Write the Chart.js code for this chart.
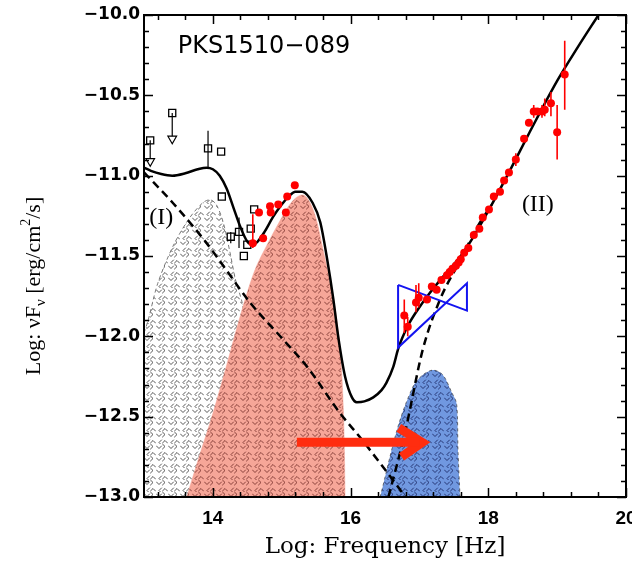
<!DOCTYPE html>
<html><head><meta charset="utf-8">
<script src="https://cdn.jsdelivr.net/npm/chart.js@4.4.1/dist/chart.umd.min.js"></script>
<style>html,body{margin:0;padding:0;background:#fff;}#wrap{width:632px;height:561px;}</style>
</head><body><div id="wrap"><canvas id="c" width="632" height="561"></canvas></div>
<script>
// ---- tick labels ----
const xTicks = [14, 16, 18, 20];
const yTicks = [-13.0, -12.5, -12.0, -11.5, -11.0, -10.5, -10.0];

// ---- total model (solid) ----
const modelX = [13.0,13.1,13.25,13.41,13.6,13.78,13.91,14.0,14.1,14.2,14.3,14.4,14.5,14.58,14.65,14.75,14.87,15.0,15.1,15.2,15.3,15.45,15.56,15.66,15.75,15.82,15.92,16.02,16.09,16.2,16.33,16.45,16.52,16.62,16.69,16.75,16.85,16.95,17.15,17.4,17.6,17.8,18.0,18.3,18.6,19.0,19.3,19.6];
const modelY = [-10.95,-10.97,-10.99,-11.0,-10.985,-10.96,-10.95,-10.96,-11.0,-11.08,-11.2,-11.32,-11.41,-11.43,-11.41,-11.35,-11.26,-11.18,-11.13,-11.10,-11.10,-11.17,-11.29,-11.52,-11.77,-12.0,-12.25,-12.38,-12.41,-12.405,-12.38,-12.335,-12.29,-12.19,-12.08,-12.01,-11.92,-11.85,-11.73,-11.6,-11.5,-11.37,-11.22,-10.98,-10.73,-10.41,-10.2,-10.0];

// ---- synchrotron (dashed, falling) ----
const synX = [13.0,13.42,13.91,14.2,14.54,15.0,15.37,15.85,16.14,16.43,16.8];
const synY = [-10.98,-11.17,-11.42,-11.59,-11.79,-12.01,-12.19,-12.48,-12.63,-12.79,-13.0];

// ---- inverse Compton (dashed, rising) ----
const icX = [16.55,16.79,17.05,17.3,17.59,17.84,18.05];
const icY = [-13.0,-12.6,-12.08,-11.77,-11.53,-11.32,-11.18];

// ---- shaded components ----
const diskX = [13.0,13.06,13.2,13.42,13.65,13.85,13.96,14.05,14.15,14.25,14.33,14.42,14.44,14.40,14.45,14.55,14.58,14.58];
const diskY = [-11.98,-11.9,-11.67,-11.44,-11.27,-11.17,-11.15,-11.18,-11.29,-11.48,-11.65,-11.78,-11.85,-11.92,-12.2,-12.45,-12.6,-13.0];
const uvX = [13.62,13.8,14.0,14.2,14.4,14.6,14.8,14.95,15.1,15.2,15.3,15.4,15.5,15.6,15.7,15.8,15.86,15.89,15.91,15.92];
const uvY = [-13.0,-12.75,-12.48,-12.18,-11.87,-11.6,-11.42,-11.3,-11.19,-11.14,-11.12,-11.16,-11.27,-11.46,-11.66,-11.9,-12.15,-12.4,-12.7,-13.0];
const blueX = [16.43,16.69,16.91,17.05,17.2,17.34,17.47,17.54,17.56,17.59];
const blueY = [-13.0,-12.56,-12.31,-12.24,-12.21,-12.24,-12.35,-12.42,-12.71,-13.0];

// ---- bow-tie and arrow ----
const bowX = [16.69,17.69,17.69,16.69,16.69];
const bowY = [-11.68,-11.84,-11.67,-12.07,-11.68];
const shaftX = [15.22,17.0];
const shaftY = [-12.66,-12.66];
const headX = [16.70,17.04,16.74];
const headY = [-12.57,-12.66,-12.75];

// ---- red data ----
const redX = [14.58,14.67,14.73,14.83,14.84,14.95,15.06,15.08,15.19,16.78,16.83,16.95,16.99,17.11,17.18,17.25,17.32,17.40,17.44,17.48,17.53,17.57,17.60,17.65,17.71,17.79,17.87,17.92,18.01,18.08,18.17,18.23,18.30,18.40,18.52,18.59,18.66,18.71,18.78,18.82,18.91,19.00,19.11];
const redY = [-11.42,-11.23,-11.39,-11.19,-11.23,-11.18,-11.23,-11.13,-11.06,-11.87,-11.94,-11.79,-11.76,-11.77,-11.69,-11.71,-11.65,-11.62,-11.60,-11.58,-11.56,-11.54,-11.52,-11.48,-11.45,-11.37,-11.33,-11.26,-11.21,-11.13,-11.10,-11.03,-10.98,-10.90,-10.77,-10.67,-10.60,-10.60,-10.60,-10.59,-10.55,-10.73,-10.37];
const redErrX = [14.58,16.78,16.83,16.95,16.99,18.40,18.66,18.78,18.82,18.91,19.00,19.11];
const redErrLo = [-11.45,-11.98,-12.00,-11.85,-11.82,-10.94,-10.64,-10.64,-10.63,-10.63,-10.90,-10.59];
const redErrHi = [-11.24,-11.77,-11.88,-11.68,-11.67,-10.86,-10.56,-10.56,-10.52,-10.48,-10.56,-10.16];

// ---- black archival data ----
const sqX = [13.09,13.41,13.93,14.12,14.13,14.26,14.38,14.45,14.50,14.55,14.60];
const sqY = [-10.78,-10.61,-10.83,-10.85,-11.13,-11.38,-11.35,-11.50,-11.43,-11.33,-11.21];
const sqErrX = [13.93,14.26,14.38];
const sqErrLo = [-10.95,-11.42,-11.45];
const sqErrHi = [-10.72,-11.35,-11.26];
const limX = [13.09,13.41];
const limFrom = [-10.78,-10.61];
const limTo = [-10.91,-10.77];

const pts = (xs, ys) => xs.map((x, i) => ({x: x, y: ys[i]}));
const bars = (xs, lo, hi) => xs.flatMap((x, i) => [{x: x, y: lo[i]}, {x: x, y: hi[i]}, {x: x, y: null}]);

const canvas = document.getElementById('c');
const mainCtx = canvas.getContext('2d');
// hatch tile made of small right-angle marks, like the reference's pattern fill
function hatch(bg, fg) {
  const s = 12, c = document.createElement('canvas');
  c.width = s; c.height = s;
  const g = c.getContext('2d');
  if (bg) { g.fillStyle = bg; g.fillRect(0, 0, s, s); }
  g.strokeStyle = fg; g.lineWidth = 1; g.lineCap = 'butt';
  const a = 2.8;
  const mark = (cx, cy, dx, dy) => {
    g.beginPath();
    g.moveTo(cx + a * (dx - dy), cy + a * (dy + dx));
    g.lineTo(cx, cy);
    g.lineTo(cx + a * (dx + dy), cy + a * (dy - dx));
    g.stroke();
  };
  mark(3, 4.5, 0, -1);
  mark(9, 2.5, -1, 0);
  mark(3, 10.5, 1, 0);
  mark(9, 8.5, 0, 1);
  return mainCtx.createPattern(c, 'repeat');
}

const RED = 'rgb(255,0,0)';
const datasets = [
  {data: pts(diskX, diskY), fill: {value: -13}, backgroundColor: hatch(null, 'rgba(60,60,60,0.85)'),
   borderColor: 'rgba(90,90,90,0.8)', borderWidth: 1, borderDash: [4, 3], pointRadius: 0, tension: 0.3, order: 9},
  {data: pts(uvX, uvY), fill: {value: -13}, backgroundColor: hatch('rgb(246,166,152)', 'rgba(110,40,35,0.8)'),
   borderColor: 'rgba(246,166,152,1)', borderWidth: 0.5, pointRadius: 0, cubicInterpolationMode: 'monotone', order: 8},
  {data: pts(blueX, blueY), fill: {value: -13}, backgroundColor: hatch('rgb(112,152,224)', 'rgba(20,30,90,0.8)'),
   borderColor: 'rgba(60,60,60,0.7)', borderWidth: 1, borderDash: [3, 3], pointRadius: 0, tension: 0.3, order: 7},
  {data: pts(synX, synY), borderColor: '#000', borderWidth: 2.5, borderDash: [8, 5], pointRadius: 0, cubicInterpolationMode: 'monotone', order: 6},
  {data: pts(icX, icY), borderColor: '#000', borderWidth: 2.5, borderDash: [8, 5], pointRadius: 0, cubicInterpolationMode: 'monotone', order: 5},
  {data: pts(modelX, modelY), borderColor: '#000', borderWidth: 2.5, pointRadius: 0, cubicInterpolationMode: 'monotone', order: 4},
  {data: pts(bowX, bowY), borderColor: 'rgb(20,20,240)', borderWidth: 2, pointRadius: 0, tension: 0, order: 3},
  {data: pts(shaftX, shaftY), borderColor: 'rgb(255,45,15)', borderWidth: 9, pointRadius: 0, tension: 0, order: 2},
  {data: pts(headX, headY), borderColor: 'rgb(255,45,15)', borderWidth: 9, borderJoinStyle: 'miter', pointRadius: 0, tension: 0, order: 2},
  {data: bars(sqErrX, sqErrLo, sqErrHi), borderColor: '#000', borderWidth: 1.2, pointRadius: 0, spanGaps: false, order: 1.5},
  {data: bars(limX, limFrom, limTo), borderColor: '#000', borderWidth: 1.2, pointRadius: 0, spanGaps: false, order: 1.5},
  {data: pts(limX, limTo), showLine: false, pointStyle: 'triangle', pointRotation: 180, pointRadius: 5,
   pointBorderColor: '#000', pointBorderWidth: 1.2, pointBackgroundColor: '#fff', order: 1.2},
  {data: pts(sqX, sqY), showLine: false, pointStyle: 'rect', pointRadius: 5,
   pointBorderColor: '#000', pointBorderWidth: 1.3, pointBackgroundColor: 'rgba(0,0,0,0)', order: 1},
  {data: bars(redErrX, redErrLo, redErrHi), borderColor: RED, borderWidth: 1.6, pointRadius: 0, spanGaps: false, order: 0.5},
  {data: pts(redX, redY), showLine: false, pointRadius: 4, pointBackgroundColor: RED, pointBorderColor: RED, pointBorderWidth: 0, order: 0}
];

const framePlugin = {
  id: 'frame',
  afterDraw(chart) {
    const {ctx, chartArea: a, scales: {x, y}} = chart;
    ctx.save();
    ctx.strokeStyle = '#000';
    ctx.lineWidth = 1.5;
    ctx.beginPath();
    for (let i = 0; i <= 17; i++) {
      const v = 13.2 + i * 0.4;
      const major = Math.abs(v / 2 - Math.round(v / 2)) < 1e-6;
      const L = major ? 9 : 5;
      const px = Math.round(x.getPixelForValue(v)) + 0.5;
      ctx.moveTo(px, a.bottom); ctx.lineTo(px, a.bottom - L);
      ctx.moveTo(px, a.top); ctx.lineTo(px, a.top + L);
    }
    for (let i = 0; i <= 30; i++) {
      const v = -13 + i * 0.1;
      const major = (i % 5) === 0;
      const L = major ? 9 : 5;
      const py = Math.round(y.getPixelForValue(v)) + 0.5;
      ctx.moveTo(a.left, py); ctx.lineTo(a.left + L, py);
      ctx.moveTo(a.right, py); ctx.lineTo(a.right - L, py);
    }
    ctx.stroke();
    ctx.lineWidth = 2;
    ctx.strokeRect(a.left, a.top, a.right - a.left, a.bottom - a.top);
    ctx.restore();
  }
};

const textPlugin = {
  id: 'texts',
  afterDraw(chart) {
    const {ctx, scales: {x, y}} = chart;
    ctx.save();
    ctx.fillStyle = '#000';
    ctx.textBaseline = 'middle';
    ctx.textAlign = 'left';
    ctx.font = '24px "DejaVu Sans"';
    ctx.fillText('PKS1510\u2212089', x.getPixelForValue(13.49), y.getPixelForValue(-10.2));
    ctx.textAlign = 'center';
    ctx.font = '24px "Liberation Serif"';
    ctx.fillText('(I)', x.getPixelForValue(13.25), y.getPixelForValue(-11.26));
    ctx.fillText('(II)', x.getPixelForValue(18.72), y.getPixelForValue(-11.18));
    const pieces = [
      {t: 'Log: \u03bdF', size: 22, dy: 0},
      {t: '\u03bd', size: 15, dy: 5},
      {t: ' [erg/cm', size: 22, dy: 0},
      {t: '2', size: 14, dy: -10},
      {t: '/s]', size: 22, dy: 0}
    ];
    let total = 0;
    for (const p of pieces) { ctx.font = p.size + 'px "Liberation Serif"'; total += ctx.measureText(p.t).width; }
    ctx.translate(33, 286);
    ctx.rotate(-Math.PI / 2);
    ctx.textAlign = 'left';
    ctx.textBaseline = 'alphabetic';
    let cx = -total / 2;
    for (const p of pieces) {
      ctx.font = p.size + 'px "Liberation Serif"';
      ctx.fillText(p.t, cx, 7 + p.dy);
      cx += ctx.measureText(p.t).width;
    }
    ctx.restore();
  }
};

new Chart(canvas, {
  type: 'line',
  data: {datasets: datasets},
  options: {
    responsive: false,
    animation: false,
    devicePixelRatio: 1,
    layout: {padding: {top: 15, right: 6, left: 0, bottom: 0}, autoPadding: false},
    plugins: {legend: {display: false}, tooltip: {enabled: false}},
    scales: {
      x: {
        type: 'linear', min: 13, max: 20,
        afterBuildTicks: s => { s.ticks = xTicks.map(v => ({value: v})); },
        afterFit: s => { s.height = 64; s.paddingLeft = 0; s.paddingRight = 0; },
        grid: {display: false, drawTicks: false},
        border: {display: false},
        ticks: {padding: 10, color: '#000', autoSkip: false, maxRotation: 0,
                font: {family: 'Liberation Sans', size: 19, weight: 'bold'},
                callback: v => String(v)},
        title: {display: true, text: 'Log: Frequency [Hz]', color: '#000',
                font: {family: 'DejaVu Serif', size: 23}, padding: {top: 0, bottom: 0}}
      },
      y: {
        type: 'linear', min: -13, max: -10,
        afterBuildTicks: s => { s.ticks = yTicks.map(v => ({value: v})); },
        afterFit: s => { s.width = 144; s.paddingTop = 0; s.paddingBottom = 0; },
        grid: {display: false, drawTicks: false},
        border: {display: false},
        ticks: {padding: 4, color: '#000', autoSkip: false,
                font: {family: 'DejaVu Sans', size: 17, weight: 'bold'},
                callback: v => (v < 0 ? '\u2212' : '') + Math.abs(v).toFixed(1)}
      }
    }
  },
  plugins: [framePlugin, textPlugin]
});
</script>
</body></html>
